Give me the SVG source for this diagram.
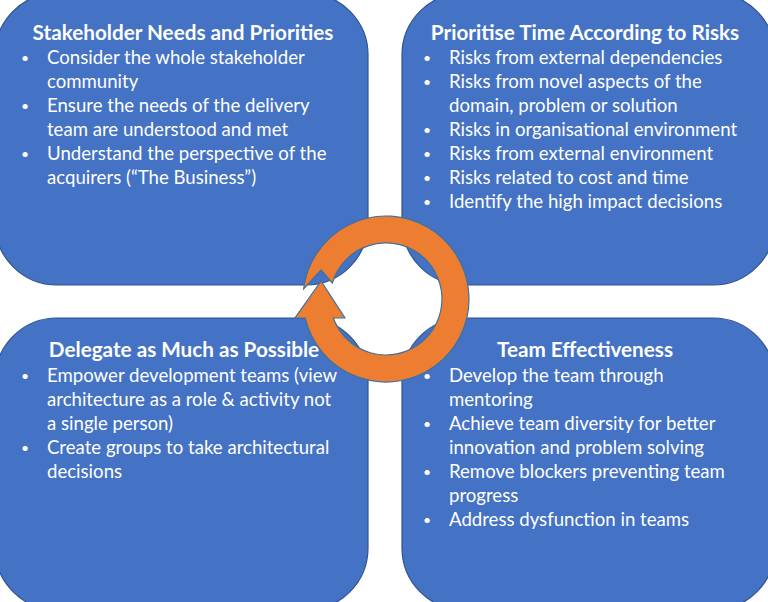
<svg xmlns="http://www.w3.org/2000/svg" width="768" height="602" viewBox="0 0 768 602">
  <style>
    .box { fill: #4472C4; stroke: #2F528F; stroke-width: 1.2; }
    .title { font-family: Lato, "Liberation Sans", sans-serif; font-weight: bold; font-size: 20.7px; fill: #FFFFFF; text-anchor: middle; }
    .body { font-family: Lato, "Liberation Sans", sans-serif; font-size: 18.6px; fill: #FFFFFF; }
    .bullet { font-family: Lato, "Liberation Sans", sans-serif; font-size: 14px; fill: #FFFFFF; text-anchor: middle; }
    .cycle { fill: #ED7D31; stroke: #41719C; stroke-width: 1.2; stroke-linejoin: miter; }
  </style>
  <rect width="768" height="602" fill="#FFFFFF"/>

  <!-- top-left quadrant -->
  <g id="stakeholder-needs">
    <rect class="box" x="-5" y="-7" width="373" height="292" rx="62" ry="62"/>
    <text class="title" x="183" y="40">Stakeholder Needs and Priorities</text>
    <g class="body">
      <text class="bullet" x="25" y="63">•</text><text x="47" y="64">Consider the whole stakeholder</text>
      <text x="47" y="88">community</text>
      <text class="bullet" x="25" y="111">•</text><text x="47" y="112">Ensure the needs of the delivery</text>
      <text x="47" y="136">team are understood and met</text>
      <text class="bullet" x="25" y="159">•</text><text x="47" y="160">Understand the perspective of the</text>
      <text x="47" y="184">acquirers (“The Business”)</text>
    </g>
  </g>

  <!-- top-right quadrant -->
  <g id="prioritise-time">
    <rect class="box" x="402" y="-7" width="373" height="292" rx="62" ry="62"/>
    <text class="title" x="585" y="40">Prioritise Time According to Risks</text>
    <g class="body">
      <text class="bullet" x="427" y="63">•</text><text x="449" y="64">Risks from external dependencies</text>
      <text class="bullet" x="427" y="87">•</text><text x="449" y="88">Risks from novel aspects of the</text>
      <text x="449" y="112">domain, problem or solution</text>
      <text class="bullet" x="427" y="135">•</text><text x="449" y="136">Risks in organisational environment</text>
      <text class="bullet" x="427" y="159">•</text><text x="449" y="160">Risks from external environment</text>
      <text class="bullet" x="427" y="183">•</text><text x="449" y="184">Risks related to cost and time</text>
      <text class="bullet" x="427" y="207">•</text><text x="449" y="208">Identify the high impact decisions</text>
    </g>
  </g>

  <!-- bottom-left quadrant -->
  <g id="delegate">
    <rect class="box" x="-5" y="318" width="373" height="292" rx="62" ry="62"/>
    <text class="title" x="184" y="357">Delegate as Much as Possible</text>
    <g class="body">
      <text class="bullet" x="25" y="381">•</text><text x="47" y="382">Empower development teams (view</text>
      <text x="47" y="406">architecture as a role &amp; activity not</text>
      <text x="47" y="430">a single person)</text>
      <text class="bullet" x="25" y="453">•</text><text x="47" y="454">Create groups to take architectural</text>
      <text x="47" y="478">decisions</text>
    </g>
  </g>

  <!-- bottom-right quadrant -->
  <g id="team-effectiveness">
    <rect class="box" x="402" y="318" width="373" height="292" rx="62" ry="62"/>
    <text class="title" x="585" y="357">Team Effectiveness</text>
    <g class="body">
      <text class="bullet" x="427" y="381">•</text><text x="449" y="382">Develop the team through</text>
      <text x="449" y="406">mentoring</text>
      <text class="bullet" x="427" y="429">•</text><text x="449" y="430">Achieve team diversity for better</text>
      <text x="449" y="454">innovation and problem solving</text>
      <text class="bullet" x="427" y="477">•</text><text x="449" y="478">Remove blockers preventing team</text>
      <text x="449" y="502">progress</text>
      <text class="bullet" x="427" y="525">•</text><text x="449" y="526">Address dysfunction in teams</text>
    </g>
  </g>

  <!-- central clockwise cycle arrow with notched tail -->
  <g id="connectors">
    <path id="cycle" class="cycle" d="M 303.6 289 A 83 83 0 1 1 305.2 318 L 295 318 L 321 281 L 345 318 L 333.3 318 A 56 56 0 1 0 332.3 283 L 321 270 Z"/>
  </g>
</svg>
